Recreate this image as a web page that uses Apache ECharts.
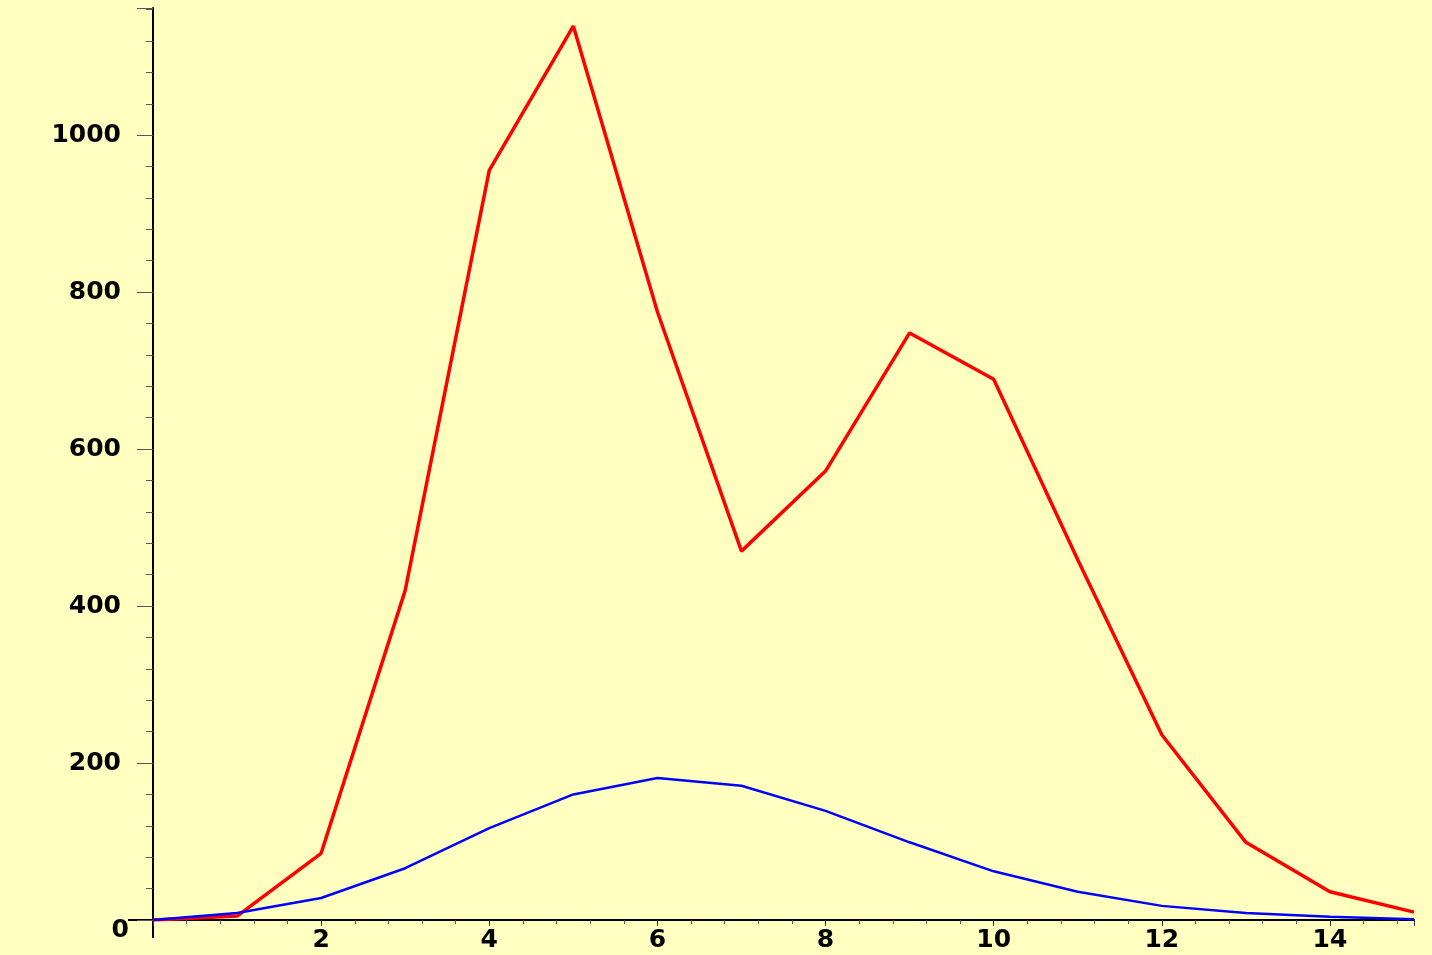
<!DOCTYPE html>
<html>
<head>
<meta charset="utf-8">
<script src="https://cdn.jsdelivr.net/npm/echarts@6/dist/echarts.min.js"></script>
<style>
  html, body { margin: 0; padding: 0; background: #ffffc0; }
  #chart { width: 1432px; height: 955px; }
</style>
</head>
<body>
<div id="chart"></div>
<script>
const xs = [0, 1, 2, 3, 4, 5, 6, 7, 8, 9, 10, 11, 12, 13, 14, 15];
const redValues = [0, 5, 85, 420, 955, 1139, 775, 470, 572, 748, 689, 459, 236, 99, 36, 10];
const blueValues = [0, 9, 28, 66, 117, 160, 181, 171, 139, 99, 62, 36, 18, 9, 4, 1];

const pair = (vals) => xs.map((x, i) => [x, vals[i]]);

const chart = echarts.init(document.getElementById('chart'));
const labelFont = {
  fontFamily: 'DejaVu Sans',
  fontWeight: 'bold',
  fontSize: 25,
  color: '#000'
};

chart.setOption({
  backgroundColor: '#ffffc0',
  animation: false,
  grid: { left: 153, right: 18, top: 8, bottom: 35 },
  xAxis: {
    type: 'value',
    min: 0,
    max: 15,
    interval: 2,
    axisLine: { onZero: false, lineStyle: { color: '#000', width: 2 } },
    axisTick: { show: true, length: 6, lineStyle: { color: '#333' } },
    minorTick: { show: true, splitNumber: 5, length: 4, lineStyle: { color: '#555' } },
    splitLine: { show: false },
    axisLabel: Object.assign({
      margin: 8,
      showMaxLabel: false,
      formatter: (v) => (v === 0 ? '' : String(v))
    }, labelFont)
  },
  yAxis: {
    type: 'value',
    min: 0,
    max: 1162,
    interval: 200,
    axisLine: { show: true, lineStyle: { color: '#000', width: 2 } },
    axisTick: { show: true, length: 16, lineStyle: { color: '#555' } },
    minorTick: { show: true, splitNumber: 5, length: 7, lineStyle: { color: '#555' } },
    splitLine: { show: false },
    axisLabel: Object.assign({
      margin: 32,
      showMaxLabel: false,
      formatter: (v) => (v === 0 ? '{z|0}' : String(v)),
      rich: { z: { fontFamily: 'DejaVu Sans', fontWeight: 'bold', fontSize: 25, color: '#000', padding: [20, -8, 0, 0] } }
    }, labelFont)
  },
  series: [
    {
      type: 'line',
      data: pair(redValues),
      symbol: 'none',
      lineStyle: { color: '#ff0000', width: 3.5 },
      z: 2
    },
    {
      type: 'line',
      data: pair(blueValues),
      symbol: 'none',
      lineStyle: { color: '#0000ff', width: 2.5 },
      z: 3
    }
  ]
});

// Maple-style axes cross a little past the origin
const o = chart.convertToPixel({ gridIndex: 0 }, [0, 0]);
chart.setOption({
  graphic: [
    { type: 'line', shape: { x1: o[0] - 25, y1: o[1], x2: o[0], y2: o[1] }, style: { stroke: '#000', lineWidth: 2 } },
    { type: 'line', shape: { x1: o[0], y1: o[1], x2: o[0], y2: o[1] + 18 }, style: { stroke: '#000', lineWidth: 2 } }
  ]
});
</script>
</body>
</html>
